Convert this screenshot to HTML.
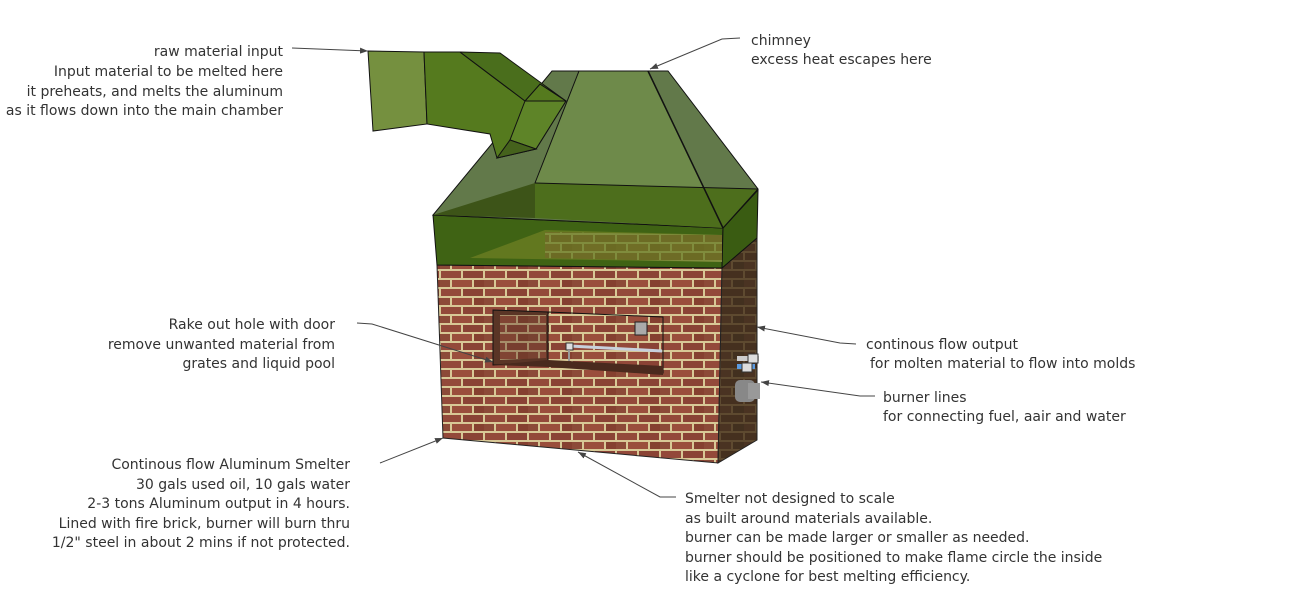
<!DOCTYPE html>
<html><head><meta charset="utf-8"><style>
html,body{margin:0;padding:0;background:#fff;width:1290px;height:602px;overflow:hidden}
svg{display:block}
text{font-family:"DejaVu Sans","Liberation Sans",sans-serif;font-size:14px;fill:#333}
</style></head><body>
<svg width="1290" height="602" viewBox="0 0 1290 602">
<defs>
<pattern id="br" width="44" height="18" patternUnits="userSpaceOnUse">
<rect width="44" height="18" fill="#d8c896"/>
<rect x="1" y="1" width="20" height="7" fill="#93493a"/>
<rect x="23" y="1" width="20" height="7" fill="#8a4335"/>
<rect x="-10" y="10" width="20" height="7" fill="#8c4a38"/>
<rect x="12" y="10" width="20" height="7" fill="#9a4e3c"/>
<rect x="34" y="10" width="20" height="7" fill="#854030"/>
</pattern>
<pattern id="br2" width="24" height="18" patternUnits="userSpaceOnUse">
<rect width="24" height="18" fill="#5e4a30"/>
<rect x="1" y="1" width="22" height="7" fill="#45301f"/>
<rect x="-11" y="10" width="22" height="7" fill="#4a3322"/>
<rect x="13" y="10" width="22" height="7" fill="#42301f"/>
</pattern>
<marker id="ar" markerWidth="8" markerHeight="6" refX="8" refY="3" orient="auto"><path d="M0,0L8,3L0,6z" fill="#444"/></marker>
</defs>

<polygon points="437,265 722,268 718,463 443,438" fill="url(#br)" stroke="#222" stroke-width="1"/>
<polygon points="722,268 757,238 757,440 718,463" fill="url(#br2)" stroke="#222"/>
<polygon points="493,310 548,312 548,362 493,365" fill="#5a3526" stroke="#111"/>
<polygon points="500,315 546,315 546,358 500,360" fill="url(#br)" opacity="0.6"/>
<polygon points="548,312 663,317 663,373 548,362" fill="url(#br)" stroke="#111"/>
<polygon points="493,365 548,360 663,366 663,375 548,367" fill="#4a2a1e"/>
<rect x="635" y="322" width="12" height="13" fill="#aaa" stroke="#222"/>
<line x1="570" y1="346" x2="662" y2="351" stroke="#c8d0dc" stroke-width="3"/>
<rect x="566" y="343" width="7" height="7" fill="#ddd" stroke="#333"/>
<line x1="569" y1="350" x2="569" y2="361" stroke="#999" stroke-width="2"/>
<rect x="737" y="356" width="22" height="5" fill="#ccc"/>
<rect x="737" y="364" width="18" height="5" fill="#5b9be0"/>
<rect x="748" y="354" width="10" height="9" fill="#ddd" stroke="#333"/>
<rect x="742" y="363" width="10" height="9" fill="#ddd" stroke="#333"/>
<rect x="735" y="380" width="20" height="22" rx="5" fill="#888"/>
<rect x="748" y="383" width="12" height="16" fill="#999"/>

<polygon points="433,215 723,228 722,268 437,265" fill="#3f6314" stroke="#111"/>
<polygon points="723,228 758,190 757,238 722,268" fill="#3a5c12" stroke="#111"/>
<polygon points="470,258 545,230 722,235 722,262" fill="#6b7d22" opacity="0.8"/>
<polygon points="545,232 722,235 722,262 545,258" fill="url(#br)" opacity="0.25"/>
<polygon points="552,71 668,71 758,189 723,228 433,215" fill="#62794a" stroke="#111"/>
<polygon points="579,71 648,71 722,226 535,183" fill="#6e8a4a" stroke="#111"/>
<polygon points="535,183 758,189 723,228 535,218" fill="#4d6e1c"/>
<polygon points="433,215 535,183 535,218" fill="#3d5418"/>
<line x1="535" y1="183" x2="758" y2="189" stroke="#111"/>
<line x1="648" y1="71" x2="723" y2="228" stroke="#111" stroke-width="1.5"/>
<line x1="723" y1="228" x2="758" y2="189" stroke="#111"/>
<polygon points="368,51 424,52 427,124 373,131" fill="#75903f" stroke="#111"/>
<polygon points="424,52 460,52 525,101 540,84 566,101 536,149 497,158 490,134 427,124" fill="#557a1e" stroke="#111"/>
<polygon points="460,52 500,53 566,101 540,84 525,101" fill="#4a6e1c" stroke="#111"/>
<polygon points="525,101 566,101 536,149 510,140" fill="#5e8428" stroke="#111"/>
<polygon points="497,158 510,140 536,149" fill="#45621c" stroke="#111"/>

<g stroke="#444" fill="none" stroke-width="1">
<polyline points="292,48 368,51" marker-end="url(#ar)"/>
<polyline points="740,38 722,39 650,69" marker-end="url(#ar)"/>
<polyline points="357,323 372,324 493,362" marker-end="url(#ar)"/>
<polyline points="856,344 840,343 757,327" marker-end="url(#ar)"/>
<polyline points="875,396 860,396 761,382" marker-end="url(#ar)"/>
<polyline points="380,463 443,438" marker-end="url(#ar)"/>
<polyline points="676,497 660,497 578,452" marker-end="url(#ar)"/>
</g>

<g text-anchor="end">
<text x="283" y="56">raw material input</text>
<text x="283" y="76">Input material to be melted here</text>
<text x="283" y="96">it preheats, and melts the aluminum</text>
<text x="283" y="115">as it flows down into the main chamber</text>
<text x="335" y="329">Rake out hole with door</text>
<text x="335" y="349">remove unwanted material from</text>
<text x="335" y="368">grates and liquid pool</text>
<text x="350" y="469">Continous flow Aluminum Smelter</text>
<text x="350" y="489">30 gals used oil, 10 gals water</text>
<text x="350" y="508">2-3 tons Aluminum output in 4 hours.</text>
<text x="350" y="528">Lined with fire brick, burner will burn thru</text>
<text x="350" y="547">1/2" steel in about 2 mins if not protected.</text>
</g>
<text x="751" y="45">chimney</text>
<text x="751" y="64">excess heat escapes here</text>
<text x="866" y="349">continous flow output</text>
<text x="870" y="368">for molten material to flow into molds</text>
<text x="883" y="402">burner lines</text>
<text x="883" y="421">for connecting fuel, aair and water</text>
<text x="685" y="503">Smelter not designed to scale</text>
<text x="685" y="523">as built around materials available.</text>
<text x="685" y="542">burner can be made larger or smaller as needed.</text>
<text x="685" y="562">burner should be positioned to make flame circle the inside</text>
<text x="685" y="581">like a cyclone for best melting efficiency.</text>
</svg>
</body></html>
